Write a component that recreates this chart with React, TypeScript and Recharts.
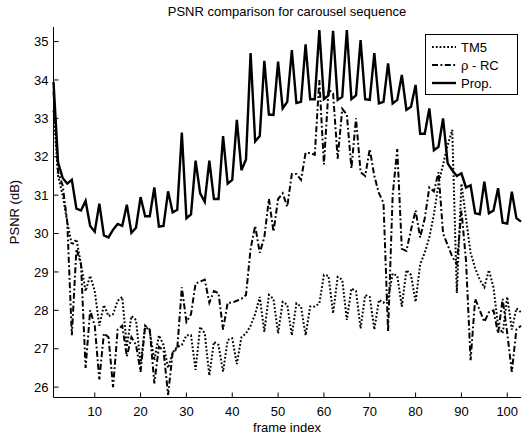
import { LineChart, Line, XAxis, YAxis, Legend } from 'recharts';

// PSNR per frame
const tm5 = [
  33.2, 31.5, 31.0, 30.3, 29.7, 29.85, 29.2, 28.5, 28.9, 28.5,
  27.6, 28.14, 27.85, 27.9, 28.25, 28.35, 27.05, 27.85, 27.75, 26.6,
  27.6, 27.45, 26.7, 27.35, 27.1, 26.5, 26.9, 27.05, 27.1, 27.35,
  27.35, 26.45, 27.57, 27.4, 26.3, 27.18, 27.1, 26.4, 27.23, 27.27,
  26.6, 27.3, 27.4, 27.6, 27.9, 28.35, 27.44, 28.4, 28.3, 27.4,
  28.22, 28.15, 27.35, 28.18, 28.1, 27.35, 28.1, 28.1, 28.18, 28.92,
  28.9, 27.92, 28.87, 28.8, 27.75, 28.57, 28.5, 27.53, 28.4, 28.35,
  27.5, 28.27, 28.2, 28.3, 28.96, 28.9, 28.1, 29.05, 28.92, 28.22,
  29.2, 29.5, 29.9, 30.5, 31.3, 31.8, 32.3, 32.7, 28.45, 31.3,
  30.4, 29.5, 29.1, 28.8, 28.6, 29.05, 28.6, 27.6, 27.4, 28.35,
  27.5, 28.05, 27.95,
];

const rhoRc = [
  33.7, 31.6, 31.25, 30.3, 27.35, 29.6, 29.2, 26.5, 28.0, 27.6,
  26.2, 27.4, 27.3, 26.0, 27.5, 27.6, 26.8, 27.3, 27.1, 26.4,
  27.6, 27.5, 26.1, 27.05, 26.95, 25.8, 26.9, 27.0, 28.6, 27.7,
  27.9, 28.7, 28.75, 28.8, 28.2, 28.5, 28.45, 27.5, 28.2, 28.2,
  28.25, 28.3, 28.4, 29.6, 30.2, 29.5, 29.9, 30.9, 30.05, 30.9,
  31.05, 30.7, 31.55, 31.55, 31.4, 32.1, 32.1, 32.05, 34.0, 31.8,
  33.75, 33.65, 31.95, 33.25, 33.1, 31.7, 33.0, 31.6, 31.5, 32.2,
  31.5, 31.05, 30.8, 27.45, 31.0, 32.2, 29.6, 29.55, 30.1, 30.6,
  29.9, 30.4, 31.2, 31.1, 31.6, 30.0, 29.7, 29.4, 29.2, 30.6,
  29.3, 26.7, 28.3, 28.0, 27.7, 27.95, 28.0, 27.4, 28.3, 27.4,
  26.4, 27.5, 27.6,
];

const prop = [
  33.95, 31.85, 31.45, 31.3, 31.4, 30.65, 30.6, 30.85, 30.2, 30.05,
  30.78, 29.95, 29.9, 30.1, 30.25, 30.2, 30.75, 30.02, 30.15, 30.95,
  30.45, 30.45, 31.2, 30.18, 30.2, 31.1, 30.55, 30.62, 32.63, 30.4,
  30.5, 31.9, 31.05, 30.83, 31.9, 30.9, 30.9, 32.54, 31.3, 31.4,
  32.96, 31.65, 31.93, 34.7, 32.4, 32.54, 34.5, 33.1, 33.09, 34.48,
  33.26, 33.43, 34.78, 33.4, 33.43, 34.93, 33.5, 33.5, 35.3, 33.5,
  33.6, 35.28, 33.48, 33.56, 35.3, 33.5, 33.6, 35.04, 33.5, 33.48,
  34.7, 33.39, 33.43, 34.43, 33.39, 33.48, 34.13, 33.22, 33.3, 33.87,
  32.6, 32.6, 33.26, 32.17, 32.26, 33.0, 31.83, 31.65, 31.5, 31.57,
  31.2, 31.26, 30.53, 30.5, 31.35, 30.53, 30.6, 31.18, 30.28, 30.26,
  31.09, 30.4, 30.31,
];

const frames = prop.map((_, i) => i + 1);
const xTicks = [10, 20, 30, 40, 50, 60, 70, 80, 90, 100];
const yTicks = [26, 27, 28, 29, 30, 31, 32, 33, 34, 35];

const series = [
  { key: 'tm5', name: 'TM5', dash: '1.8 2', width: 2 },
  { key: 'rho', name: '\u03c1 - RC', dash: '6 2.5 1.8 2.5', width: 2 },
  { key: 'prop', name: 'Prop.', dash: undefined, width: 2.4 },
];

const data = frames.map((f, i) => ({ frame: f, tm5: tm5[i], rho: rhoRc[i], prop: prop[i] }));

const font = '"Liberation Sans", Arial, sans-serif';

function LegendBox() {
  return (
    <div
      style={{
        border: '1px solid #000',
        background: '#fff',
        width: 85,
        height: 56,
        paddingTop: 3,
        paddingLeft: 6,
        boxSizing: 'content-box',
        fontFamily: font,
        fontSize: 13,
        color: '#000',
      }}
    >
      {series.map((s) => (
        <div key={s.key} style={{ display: 'flex', alignItems: 'center', height: 18 }}>
          <svg width={24} height={6}>
            <line x1={0} y1={3} x2={24} y2={3} stroke="#000" strokeWidth={s.width} strokeDasharray={s.dash} />
          </svg>
          <span style={{ marginLeft: 5 }}>{s.name}</span>
        </div>
      ))}
    </div>
  );
}

export default function App() {
  return (
    <div style={{ position: 'absolute', left: 0, top: 0, width: 525, height: 438, background: '#fff', fontFamily: font }}>
      <div style={{ position: 'absolute', left: 53.5, width: 467, top: 4, textAlign: 'center', fontSize: 13, lineHeight: '16px' }}>
        PSNR comparison for carousel sequence
      </div>
      <div
        style={{
          position: 'absolute',
          left: 14,
          top: 212,
          transform: 'translate(-50%, -50%) rotate(-90deg)',
          whiteSpace: 'nowrap',
          fontSize: 13,
        }}
      >
        PSNR (dB)
      </div>
      <div style={{ position: 'absolute', left: 53.5, width: 467, top: 420, textAlign: 'center', fontSize: 13, lineHeight: '16px' }}>
        frame index
      </div>
      <LineChart width={525} height={438} data={data} margin={{ top: 27, right: 4, bottom: 15.5, left: 13.5 }}>
        <XAxis
          dataKey="frame"
          type="number"
          domain={[1, 103]}
          ticks={xTicks}
          height={25}
          tickSize={-5}
          tickMargin={14}
          stroke="#000"
          tick={{ fill: '#000', fontSize: 13, fontFamily: font }}
        />
        <YAxis
          type="number"
          domain={[25.73, 35.38]}
          ticks={yTicks}
          width={40}
          tickSize={-5}
          tickMargin={10}
          stroke="#000"
          allowDataOverflow
          tick={{ fill: '#000', fontSize: 13, fontFamily: font }}
        />
        <Legend
          layout="vertical"
          align="center"
          verticalAlign="middle"
          content={() => <LegendBox />}
          wrapperStyle={{ left: 425, top: 34, width: 'auto' }}
        />
        {series.map((s) => (
          <Line
            key={s.key}
            dataKey={s.key}
            name={s.name}
            type="linear"
            stroke="#000"
            strokeWidth={s.width}
            strokeDasharray={s.dash}
            dot={false}
            isAnimationActive={false}
          />
        ))}
      </LineChart>
    </div>
  );
}
